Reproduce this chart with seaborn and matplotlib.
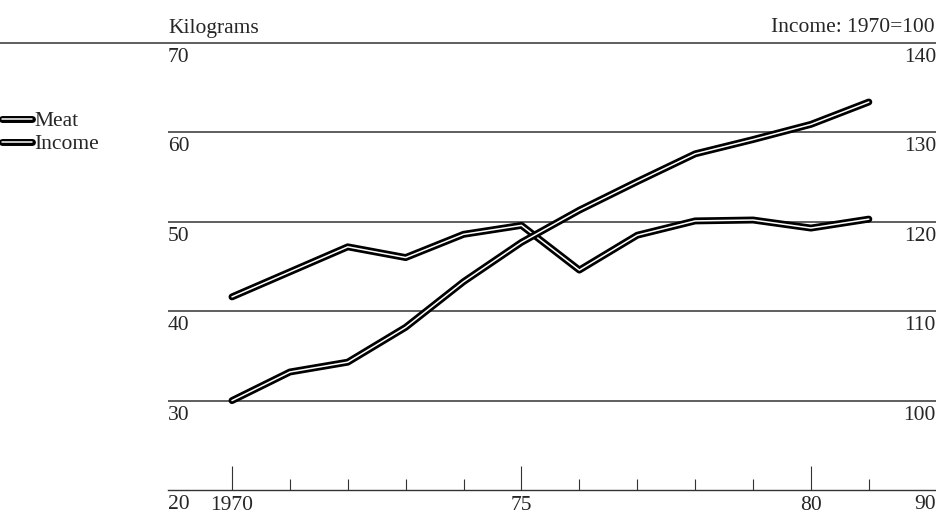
"""meat consumption and income, 1970-81"""

import pandas as pd
import matplotlib.pyplot as plt
import matplotlib.patheffects as pe
import matplotlib.transforms as mtransforms
import seaborn as sns

years = list(range(1970, 1982))
meat_kg = [41.6, 44.4, 47.2, 46.0, 48.6, 49.6, 44.6, 48.5, 50.1, 50.2, 49.3, 50.3]
income_index = [100.0, 103.2, 104.3, 108.2, 113.3, 117.7, 121.3, 124.5, 127.6, 129.2, 130.9, 133.4]

kg_ticks = [20, 30, 40, 50, 60, 70]
index_ticks = [90, 100, 110, 120, 130, 140]
year_ticks = [1970, 1975, 1980]
year_labels = ["1970", "75", "80"]

df = pd.DataFrame({"Year": years, "Meat": meat_kg, "Income": income_index})

sns.set_style("white")
plt.rcParams["font.family"] = ["Liberation Serif", "DejaVu Serif"]
plt.rcParams["font.size"] = 15.5

fig = plt.figure(figsize=(9.36, 5.13), dpi=100)
ax = fig.add_axes([168 / 936, 23 / 513, 768 / 936, 447 / 513])
ax2 = ax.twinx()

double = [pe.Stroke(linewidth=5.0, foreground="black"), pe.Normal()]
sns.lineplot(data=df, x="Year", y="Meat", ax=ax, color="white", lw=1.1,
             path_effects=double, label="Meat", legend=False)
sns.lineplot(data=df, x="Year", y="Income", ax=ax2, color="white", lw=1.1,
             path_effects=double, label="Income", legend=False)

ax.set_xlim(1968.895, 1982.16)
ax.set_ylim(20, 70)
ax2.set_ylim(90, 140)

for lvl in [30, 40, 50, 60]:
    ax.axhline(lvl, color="#333333", lw=1.1, zorder=0)
ax.axhline(70, xmin=-0.22, xmax=1, color="#333333", lw=1.1, clip_on=False, zorder=0)

for a in (ax, ax2):
    for s in a.spines.values():
        s.set_visible(False)
ax.spines["bottom"].set_visible(True)
ax.spines["bottom"].set_color("#333333")
ax.spines["bottom"].set_linewidth(1.0)

# value labels sit just under each rule, left and right
ax.set_yticks([])
ax2.set_yticks([])
below = mtransforms.ScaledTranslation(0, -5 / 100, fig.dpi_scale_trans)
for v in kg_ticks:
    ax.text(0, v, str(v), ha="left", va="top",
            transform=ax.get_yaxis_transform() + below)
for v in index_ticks:
    ax2.text(1, v, str(v), ha="right", va="top",
             transform=ax2.get_yaxis_transform() + below)

ax.set_xticks(year_ticks)
ax.set_xticklabels(year_labels)
ax.set_xticks(years, minor=True)
ax.tick_params(axis="x", which="major", direction="in", length=17, width=0.8,
               color="#333333", pad=4, bottom=True)
ax.tick_params(axis="x", which="minor", direction="in", length=8, width=0.8,
               color="#333333", bottom=True)
ax.set_xlabel("")
ax.set_ylabel("")
ax2.set_ylabel("")

fig.text(168 / 936, 1 - 28 / 513, "Kilograms", ha="left", va="center")
fig.text(935 / 936, 1 - 28 / 513, "Income: 1970=100", ha="right", va="center")

handles = ax.get_lines()[:1] + ax2.get_lines()[:1]
fig.legend(handles, ["Meat", "Income"], loc="upper left",
           bbox_to_anchor=(2 / 936, 1 - 111 / 513), frameon=False,
           handlelength=1.4, handletextpad=0.1, labelspacing=0.15,
           borderaxespad=0, borderpad=0)

plt.savefig("out.png", dpi=100)
plt.close()
